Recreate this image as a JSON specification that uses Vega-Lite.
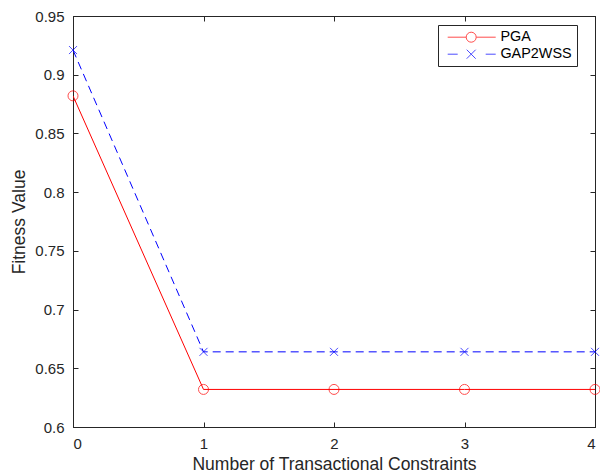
{
  "$schema": "https://vega.github.io/schema/vega-lite/v6.json",
  "width": 522,
  "height": 411,
  "autosize": {"type": "none"},
  "padding": {"left": 73, "top": 16, "right": 5, "bottom": 48},
  "background": "white",
  "config": {
    "font": "Liberation Sans",
    "view": {"stroke": "#262626", "strokeWidth": 1},
    "axis": {
      "grid": false,
      "domainColor": "#262626",
      "tickColor": "#262626",
      "labelColor": "#262626",
      "titleColor": "#262626",
      "labelFont": "Liberation Sans",
      "titleFont": "Liberation Sans",
      "labelFontSize": 15,
      "titleFontSize": 17.5,
      "titleFontWeight": "normal",
      "tickSize": -5
    }
  },
  "data": {
    "values": [
      {"x": 0, "series": "PGA", "value": 0.882},
      {"x": 1, "series": "PGA", "value": 0.632},
      {"x": 2, "series": "PGA", "value": 0.632},
      {"x": 3, "series": "PGA", "value": 0.632},
      {"x": 4, "series": "PGA", "value": 0.632},
      {"x": 0, "series": "GAP2WSS", "value": 0.921},
      {"x": 1, "series": "GAP2WSS", "value": 0.664},
      {"x": 2, "series": "GAP2WSS", "value": 0.664},
      {"x": 3, "series": "GAP2WSS", "value": 0.664},
      {"x": 4, "series": "GAP2WSS", "value": 0.664}
    ]
  },
  "resolve": {"axis": {"x": "independent", "y": "independent"}},
  "layer": [
    {
      "transform": [{"filter": "datum.series === 'PGA'"}],
      "mark": {"type": "line", "strokeWidth": 1, "clip": true, "color": "#ff0000"},
      "encoding": {
        "x": {"field": "x", "type": "quantitative", "scale": {"domain": [0, 4], "nice": false}, "axis": {"orient": "bottom", "values": [0, 1, 2, 3, 4], "title": "Number of Transactional Constraints", "labelPadding": 14, "titlePadding": 4}},
        "y": {"field": "value", "type": "quantitative", "scale": {"domain": [0.6, 0.95], "nice": false, "zero": false}, "axis": {"orient": "left", "values": [0.6, 0.65, 0.7, 0.75, 0.8, 0.85, 0.9, 0.95], "format": ".2~f", "title": "Fitness Value", "labelPadding": 14, "titlePadding": 6}}
      }
    },
    {
      "transform": [{"filter": "datum.series === 'GAP2WSS'"}],
      "mark": {"type": "line", "strokeWidth": 1, "clip": true, "color": "#0000ff", "strokeDash": [8, 5]},
      "encoding": {
        "x": {"field": "x", "type": "quantitative", "axis": {"orient": "top", "values": [0, 1, 2, 3, 4], "labels": false, "title": null}},
        "y": {"field": "value", "type": "quantitative", "axis": {"orient": "right", "values": [0.6, 0.65, 0.7, 0.75, 0.8, 0.85, 0.9, 0.95], "labels": false, "title": null}}
      }
    },
    {
      "transform": [{"filter": "datum.series === 'PGA'"}],
      "mark": {"type": "point", "shape": "circle", "filled": false, "strokeWidth": 1, "size": 100, "clip": false, "color": "#ff0000"},
      "encoding": {
        "x": {"field": "x", "type": "quantitative", "axis": null},
        "y": {"field": "value", "type": "quantitative", "axis": null}
      }
    },
    {
      "transform": [{"filter": "datum.series === 'GAP2WSS'"}],
      "mark": {"type": "point", "shape": "M-1,-1L1,1M-1,1L1,-1", "filled": false, "strokeWidth": 1, "size": 64, "clip": false, "color": "#0000ff"},
      "encoding": {
        "x": {"field": "x", "type": "quantitative", "axis": null},
        "y": {"field": "value", "type": "quantitative", "axis": null}
      }
    },
    {
      "transform": [{"filter": "datum.x > 100"}],
      "mark": {"type": "point", "filled": false, "strokeWidth": 1},
      "encoding": {
        "x": {"field": "x", "type": "quantitative", "axis": null},
        "y": {"field": "value", "type": "quantitative", "axis": null},
        "color": {"field": "series", "type": "nominal", "scale": {"domain": ["PGA", "GAP2WSS"], "range": ["#ff0000", "#0000ff"]},
          "legend": {
            "title": null,
            "orient": "none",
            "legendX": 365,
            "legendY": 9,
            "strokeColor": "#262626",
            "fillColor": "white",
            "padding": 5,
            "symbolSize": 100,
            "symbolStrokeWidth": 1,
            "labelFontSize": 14.4,
            "labelFont": "Liberation Sans",
            "labelColor": "#000000",
            "labelOffset": 43,
            "rowPadding": 1
          }
        },
        "shape": {"field": "series", "type": "nominal", "scale": {"domain": ["PGA", "GAP2WSS"], "range": ["M-0.5,0H3.2M5.2,0H9.1M3.2,0A1,1 0 1,1 5.2,0A1,1 0 1,1 3.2,0", "M-0.5,0H1.5M7.1,0H9.1M3.3,-0.9L5.1,0.9M3.3,0.9L5.1,-0.9"]}}
      }
    }
  ]
}
